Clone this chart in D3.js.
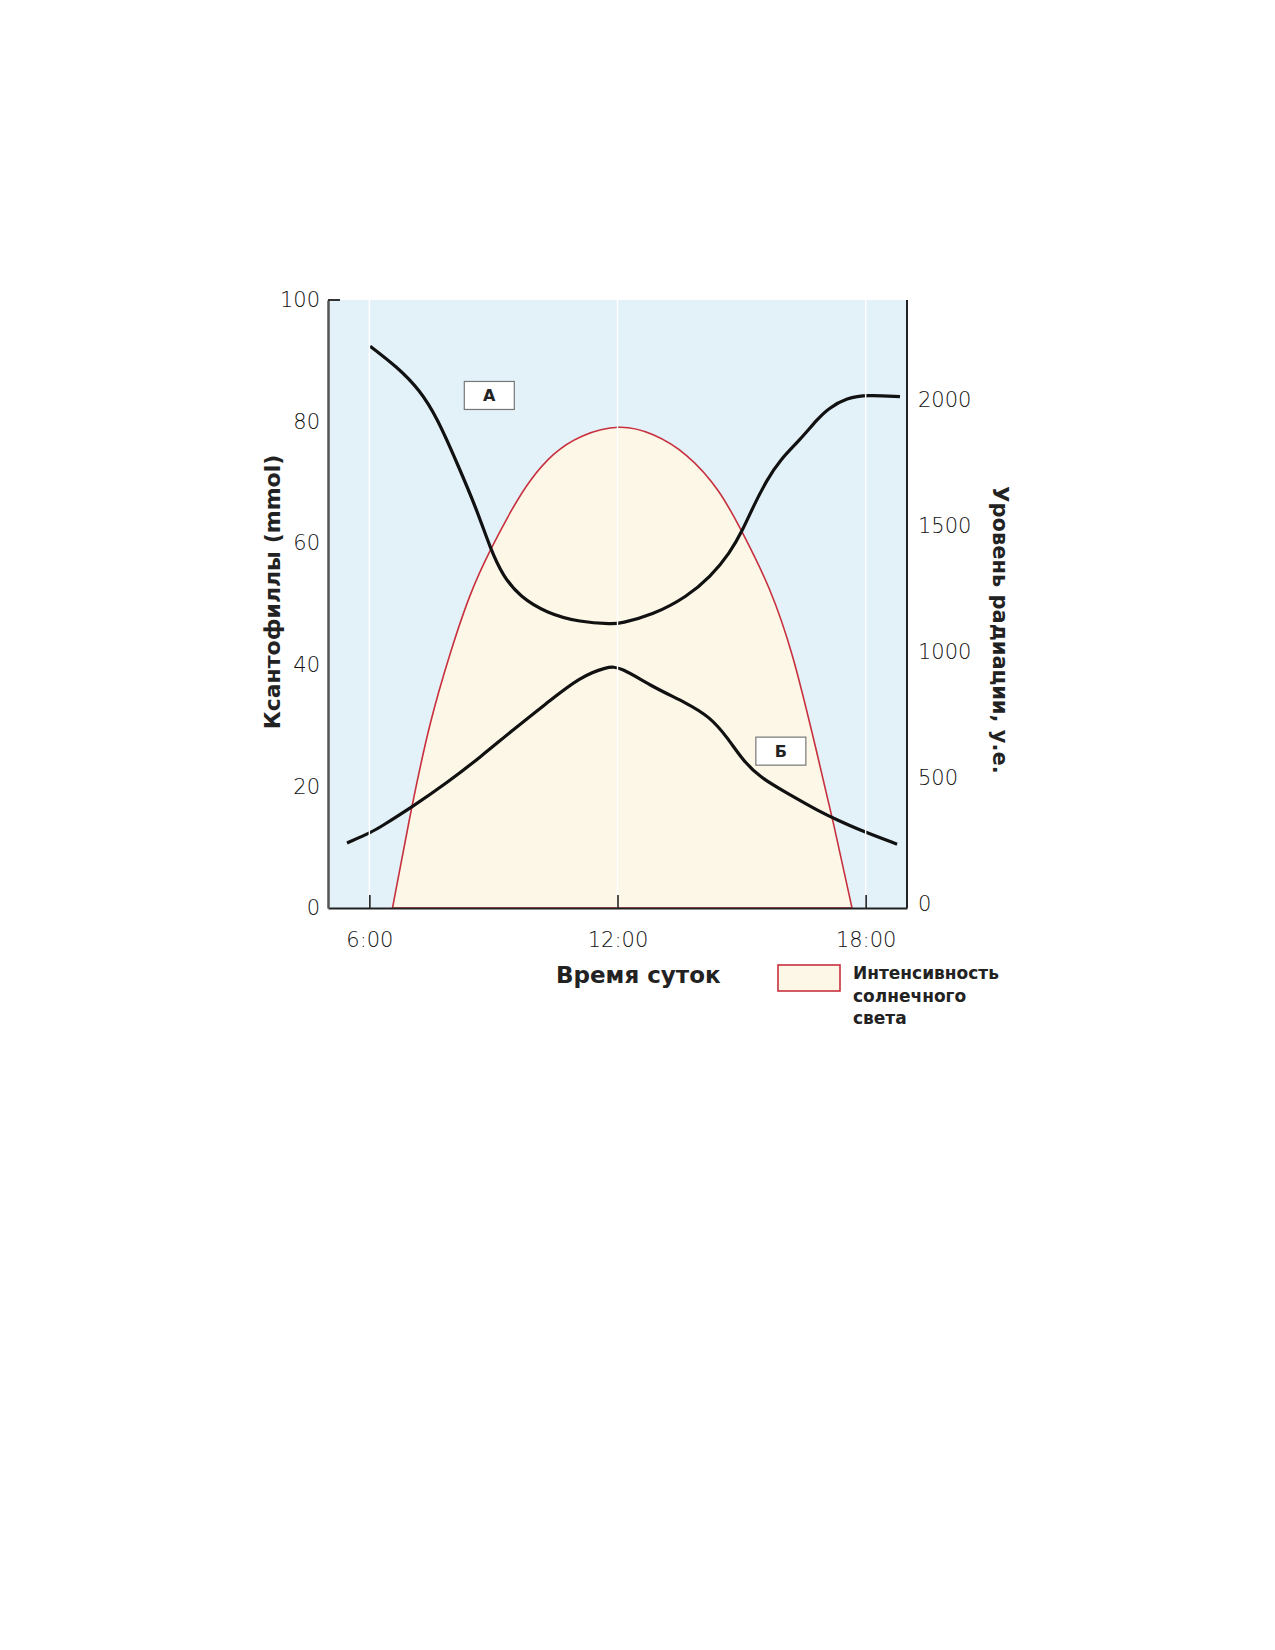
<!DOCTYPE html>
<html>
<head>
<meta charset="utf-8">
<title>Ксантофиллы и интенсивность солнечного света</title>
<script src="https://d3js.org/d3.v7.min.js"></script>
<style>
  body { margin: 0; background: #fff; }
  text { font-family: "DejaVu Sans", sans-serif; }
</style>
</head>
<body>
<svg width="1275" height="1650"></svg>
<script>
// hours of the day
var hourTicks = [6, 12, 18];
var hourLabels = ["6:00", "12:00", "18:00"];
var leftTicks = [0, 20, 40, 60, 80, 100];
var rightTicks = [0, 500, 1000, 1500, 2000];

// curve A (upper), mmol
var hoursA = [6.02, 6.67, 7.22, 7.64, 8.12, 8.60, 8.92, 9.23, 9.64, 10.29, 11.09, 11.89, 12.06, 12.86, 13.68, 14.24, 14.72, 15.03, 15.28, 15.61, 15.93, 16.41, 16.82, 17.10, 17.55, 18.03, 18.83];
var valuesA = [92.4, 89.0, 85.2, 80.6, 73.2, 65.5, 59.2, 54.6, 51.2, 48.5, 47.0, 46.7, 46.8, 48.2, 51.2, 54.4, 58.4, 62.2, 66.0, 70.4, 73.7, 77.0, 80.3, 82.2, 83.9, 84.4, 84.1];

// curve B (lower), mmol
var hoursB = [5.46, 6.09, 6.26, 7.03, 7.88, 8.68, 9.47, 10.29, 11.09, 11.75, 12.06, 12.86, 13.68, 14.24, 14.65, 15.03, 15.44, 16.10, 16.90, 17.31, 17.86, 18.76];
var valuesB = [10.7, 12.6, 13.3, 16.6, 20.6, 24.8, 29.3, 33.7, 38.0, 39.7, 39.7, 36.3, 33.7, 31.4, 28.1, 24.3, 21.5, 18.9, 15.8, 14.5, 12.8, 10.5];

// sunlight intensity, radiation units
var hoursSun = [6.56, 7.02, 7.47, 7.95, 8.43, 8.92, 9.47, 9.88, 10.44, 11.09, 12.06, 12.86, 13.68, 14.48, 15.03, 15.69, 16.24, 16.73, 17.21, 17.67];
var valuesSun = [0, 386, 730, 996, 1234, 1405, 1575, 1683, 1790, 1861, 1905, 1869, 1790, 1643, 1472, 1258, 996, 663, 333, 0];

var labels = [{text: "А", h: 8.9, v: 84.3}, {text: "Б", h: 15.95, v: 25.8}];

var svg = d3.select("svg"),
    margin = {top: 300, left: 328},
    width = 579,
    height = 608,
    g = svg.append("g").attr("transform", `translate(${margin.left},${margin.top})`);

var x = d3.scaleLinear().domain([5, 19]).range([0, width]),
    yLeft = d3.scaleLinear().domain([0, 100]).range([height, 0]),
    yRight = d3.scaleLinear().domain([0, 2000]).range([height - 4, 100]);

g.append("rect")
  .attr("width", width).attr("height", height)
  .attr("fill", "#e3f1f9");

var sun = hoursSun.map((h, i) => ({h: h, v: valuesSun[i]}));
g.append("path")
  .datum(sun)
  .attr("fill", "#fdf7e7")
  .attr("stroke", "#c8303e")
  .attr("stroke-width", 1.6)
  .attr("d", d3.area()
    .x(d => x(d.h))
    .y0(height)
    .y1(d => d.v === 0 ? height : yRight(d.v))
    .curve(d3.curveBasis));

var line = d3.line()
  .x(d => x(d.h))
  .y(d => yLeft(d.v))
  .curve(d3.curveBasis);

[[hoursA, valuesA], [hoursB, valuesB]].forEach(s => {
  g.append("path")
    .datum(s[0].map((h, i) => ({h: h, v: s[1][i]})))
    .attr("fill", "none")
    .attr("stroke", "#111")
    .attr("stroke-width", 3.2)
    .attr("d", line);
});

// white grid lines over everything
g.selectAll(".grid")
  .data(hourTicks)
  .enter().append("line")
    .attr("class", "grid")
    .attr("x1", d => x(d)).attr("x2", d => x(d))
    .attr("y1", 0).attr("y2", height)
    .attr("stroke", "#fff")
    .attr("stroke-width", 1.4);

// curve labels
var lab = g.selectAll(".lab")
  .data(labels)
  .enter().append("g")
    .attr("class", "lab")
    .attr("transform", d => `translate(${x(d.h)},${yLeft(d.v)})`);
lab.append("rect")
  .attr("x", -25).attr("y", -14).attr("width", 50).attr("height", 28)
  .attr("fill", "#fff").attr("stroke", "#777").attr("stroke-width", 1.2);
lab.append("text")
  .text(d => d.text)
  .attr("text-anchor", "middle")
  .attr("dy", "0.36em")
  .style("font-size", "16px")
  .style("font-weight", "bold")
  .attr("fill", "#222");

// bottom axis
var xAxis = g.append("g")
  .attr("transform", `translate(0,${height})`)
  .call(d3.axisBottom(x).tickValues(hourTicks).tickFormat((d, i) => hourLabels[i]).tickSizeInner(-13).tickSizeOuter(0).tickPadding(24));
xAxis.select(".domain").attr("stroke", "#222").attr("stroke-width", 2);
xAxis.selectAll(".tick line").attr("stroke", "#222").attr("stroke-width", 1.6);
xAxis.selectAll("text").style("font-size", "21px").style("font-weight", "200").attr("fill", "#111").attr("font-family", "DejaVu Sans, sans-serif");

// left axis
var yAx = g.append("g")
  .call(d3.axisLeft(yLeft).tickValues(leftTicks).tickSize(0).tickPadding(8));
yAx.select(".domain").attr("stroke", "#555").attr("stroke-width", 2.5);
yAx.selectAll("text").style("font-size", "21px").style("font-weight", "200").attr("fill", "#111").attr("font-family", "DejaVu Sans, sans-serif");
g.append("line")
  .attr("x1", 0).attr("x2", 12)
  .attr("y1", yLeft(100)).attr("y2", yLeft(100))
  .attr("stroke", "#333").attr("stroke-width", 2);

// right axis
var y2 = g.append("g")
  .attr("transform", `translate(${width},0)`)
  .call(d3.axisRight(yRight).tickValues(rightTicks).tickFormat(d3.format("d")).tickSize(0).tickPadding(11));
y2.select(".domain").remove();
y2.selectAll("text").style("font-size", "21px").style("font-weight", "200").attr("fill", "#111").attr("font-family", "DejaVu Sans, sans-serif");
g.append("line")
  .attr("x1", width).attr("x2", width)
  .attr("y1", 0).attr("y2", height)
  .attr("stroke", "#222").attr("stroke-width", 2);

// axis titles
svg.append("text")
  .text("Ксантофиллы (mmol)")
  .attr("transform", "translate(280,592) rotate(-90)")
  .attr("text-anchor", "middle")
  .style("font-size", "22px")
  .style("font-weight", "bold")
  .attr("fill", "#222");
svg.append("text")
  .text("Уровень радиации, у.е.")
  .attr("transform", "translate(993,630) rotate(90)")
  .attr("text-anchor", "middle")
  .style("font-size", "21px")
  .style("font-weight", "bold")
  .attr("fill", "#222");
svg.append("text")
  .text("Время суток")
  .attr("x", 556).attr("y", 983)
  .style("font-size", "23px")
  .style("font-weight", "bold")
  .attr("fill", "#222");

// legend
svg.append("rect")
  .attr("x", 778).attr("y", 965).attr("width", 62).attr("height", 26)
  .attr("fill", "#fdf7e7").attr("stroke", "#c8303e").attr("stroke-width", 1.6);
svg.append("text")
  .attr("x", 853).attr("y", 979)
  .style("font-size", "17px")
  .style("font-weight", "bold")
  .attr("fill", "#222")
  .selectAll("tspan")
  .data(["Интенсивность", "солнечного", "света"])
  .enter().append("tspan")
    .attr("x", 853)
    .attr("dy", (d, i) => i === 0 ? 0 : 22.5)
    .text(d => d);
</script>
</body>
</html>
